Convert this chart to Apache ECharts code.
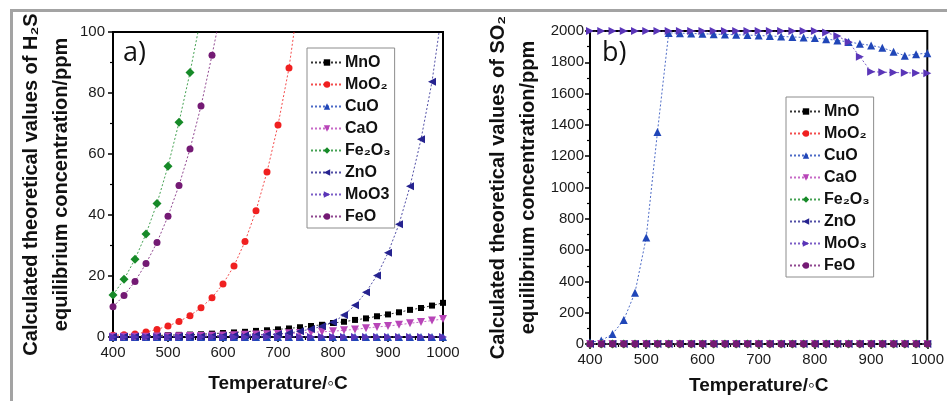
<!DOCTYPE html>
<html>
<head>
<meta charset="utf-8">
<script src="https://cdn.jsdelivr.net/npm/echarts@6/dist/echarts.min.js"></script>
<style>
  html, body { margin: 0; padding: 0; background: #fff; }
  #chart { width: 947px; height: 401px; }
</style>
</head>
<body>
<div id="chart"></div>
<script>
// temperature grid (°C)
const temps = [400, 420, 440, 460, 480, 500, 520, 540, 560, 580, 600, 620, 640, 660, 680, 700,
  720, 740, 760, 780, 800, 820, 840, 860, 880, 900, 920, 940, 960, 980, 1000];

// panel a) H2S equilibrium concentration, ppm
const mnoH2S = [0.2, 0.25, 0.3, 0.4, 0.5, 0.6, 0.7, 0.8, 0.9, 1.1, 1.3, 1.5, 1.7, 2.0, 2.2, 2.5,
  2.8, 3.2, 3.6, 4.0, 4.6, 5.0, 5.6, 6.1, 6.8, 7.4, 8.1, 8.9, 9.5, 10.3, 11.2];
const moo2H2S = [0.6, 0.7, 1.0, 1.6, 2.5, 3.6, 5.1, 7.0, 9.6, 12.9, 17.4, 23.3, 31.3, 41.4, 54.1, 69.5,
  88.2, 114, null, null, null, null, null, null, null, null, null, null, null, null, null];
const cuoH2S = [0, 0, 0, 0, 0, 0, 0, 0, 0, 0, 0, 0, 0, 0, 0, 0,
  0, 0, 0, 0, 0, 0, 0, 0, 0, 0, 0, 0, 0, 0, 0];
const caoH2S = [0.05, 0.05, 0.1, 0.1, 0.15, 0.2, 0.25, 0.3, 0.35, 0.4, 0.5, 0.6, 0.7, 0.8, 0.9, 1.0,
  1.2, 1.3, 1.5, 1.7, 1.9, 2.2, 2.5, 2.9, 3.3, 3.6, 4.0, 4.5, 4.9, 5.4, 5.9];
const fe2o3H2S = [13.8, 18.9, 25.5, 33.8, 43.8, 56.0, 70.4, 86.7, 105, null, null, null, null, null, null, null,
  null, null, null, null, null, null, null, null, null, null, null, null, null, null, null];
const znoH2S = [0.05, 0.05, 0.05, 0.1, 0.1, 0.1, 0.15, 0.2, 0.2, 0.25, 0.3, 0.4, 0.5, 0.6, 0.75, 0.9,
  1.3, 1.9, 2.6, 3.5, 4.8, 7.2, 10.4, 14.7, 20.2, 27.6, 37.0, 49.4, 64.8, 83.7, 109];
const moo3H2S = [0, 0, 0, 0, 0, 0, 0, 0, 0, 0, 0, 0, 0, 0, 0, 0,
  0, 0, 0, 0, 0, 0, 0, 0, 0, 0, 0, 0, 0, 0, 0];
const feoH2S = [9.9, 13.6, 18.2, 24.1, 31.0, 39.6, 49.7, 61.6, 75.7, 92.4, 110, null, null, null, null, null,
  null, null, null, null, null, null, null, null, null, null, null, null, null, null, null];

// panel b) SO2 equilibrium concentration, ppm
const mnoSO2 = [0, 0, 0, 0, 0, 0, 0, 0, 0, 0, 0, 0, 0, 0, 0, 0,
  0, 0, 0, 0, 0, 0, 0, 0, 0, 0, 0, 0, 0, 0, 0];
const moo2SO2 = [0, 0, 0, 0, 0, 0, 0, 0, 0, 0, 0, 0, 0, 0, 0, 0,
  0, 0, 0, 0, 0, 0, 0, 0, 0, 0, 0, 0, 0, 0, 0];
const cuoSO2 = [11, 22, 64, 153, 328, 680, 1355, 1988, 1986, 1984, 1982, 1980, 1978, 1976, 1974, 1971,
  1968, 1965, 1962, 1959, 1955, 1948, 1940, 1930, 1918, 1908, 1893, 1868, 1842, 1852, 1858];
const caoSO2 = [0, 0, 0, 0, 0, 0, 0, 0, 0, 0, 0, 0, 0, 0, 0, 0,
  0, 0, 0, 0, 0, 0, 0, 0, 0, 0, 0, 0, 0, 0, 0];
const fe2o3SO2 = [0, 0, 0, 0, 0, 0, 0, 0, 0, 0, 0, 0, 0, 0, 0, 0,
  0, 0, 0, 0, 0, 0, 0, 0, 0, 0, 0, 0, 0, 0, 0];
const znoSO2 = [0, 0, 0, 0, 0, 0, 0, 0, 0, 0, 0, 0, 0, 0, 0, 0,
  0, 0, 0, 0, 0, 0, 0, 0, 0, 0, 0, 0, 0, 0, 0];
const moo3SO2 = [2000, 2000, 2000, 2000, 2000, 2000, 2000, 2000, 2000, 2000, 2000, 2000, 2000, 2000, 2000, 2000,
  2000, 2000, 2000, 2000, 2000, 1990, 1968, 1930, 1836, 1740, 1737, 1735, 1733, 1731, 1730];
const feoSO2 = [0, 0, 0, 0, 0, 0, 0, 0, 0, 0, 0, 0, 0, 0, 0, 0,
  0, 0, 0, 0, 0, 0, 0, 0, 0, 0, 0, 0, 0, 0, 0];

const xTicksA = [400, 500, 600, 700, 800, 900, 1000];
const yTicksA = [0, 20, 40, 60, 80, 100];
const yTicksB = [0, 200, 400, 600, 800, 1000, 1200, 1400, 1600, 1800, 2000];

const namesA = ['MnO', 'MoO₂', 'CuO', 'CaO', 'Fe₂O₃', 'ZnO', 'MoO3', 'FeO'];
const namesB = ['MnO', 'MoO₂', 'CuO', 'CaO', 'Fe₂O₃', 'ZnO', 'MoO₃', 'FeO'];

const dataA = [mnoH2S, moo2H2S, cuoH2S, caoH2S, fe2o3H2S, znoH2S, moo3H2S, feoH2S];
const dataB = [mnoSO2, moo2SO2, cuoSO2, caoSO2, fe2o3SO2, znoSO2, moo3SO2, feoSO2];

// marker look per oxide
const looks = [
  { color: '#000000', symbol: 'rect', size: 6, rot: 0 },
  { color: '#f02020', symbol: 'circle', size: 7, rot: 0 },
  { color: '#2046b8', symbol: 'triangle', size: 8, rot: 0 },
  { color: '#b845b8', symbol: 'triangle', size: 8, rot: 180 },
  { color: '#168a28', symbol: 'diamond', size: 9, rot: 0 },
  { color: '#26238f', symbol: 'triangle', size: 8, rot: 90 },
  { color: '#5a35b8', symbol: 'triangle', size: 8, rot: -90 },
  { color: '#741a74', symbol: 'circle', size: 7, rot: 0 }
];

const font = 'Liberation Sans, Arial, sans-serif';
const tickColor = '#1a1a1a';

function pairs(vals) {
  return temps.map((t, i) => [t, vals[i]]);
}

function makeSeries(names, data, idx) {
  return names.map((n, k) => ({
    name: n,
    type: 'line',
    xAxisIndex: idx,
    yAxisIndex: idx,
    data: pairs(data[k]),
    symbol: looks[k].symbol,
    symbolSize: looks[k].size,
    symbolRotate: looks[k].rot,
    color: looks[k].color,
    lineStyle: { width: 1, type: [2, 2], color: looks[k].color, opacity: 0.8 },
    itemStyle: { color: looks[k].color },
    connectNulls: false,
    clip: true,
    animation: false
  }));
}

function xAxis(idx, nameGap) {
  return {
    type: 'value', gridIndex: idx, min: 400, max: 1000, interval: 100,
    name: 'Temperature/◦C', nameLocation: 'middle', nameGap: nameGap,
    nameTextStyle: { fontFamily: font, fontWeight: 'bold', fontSize: 19, color: '#111' },
    axisLine: { onZero: false, lineStyle: { color: '#000', width: 2 } },
    axisTick: { length: 5, lineStyle: { color: '#000', width: 1.5 } },
    minorTick: { show: true, splitNumber: 2, length: 3, lineStyle: { color: '#000', width: 1.2 } },
    axisLabel: { fontFamily: font, fontSize: 15, color: tickColor, margin: 8,
      formatter: v => xTicksA.includes(v) ? String(v) : '' },
    splitLine: { show: false }
  };
}

function legend(names, left, top) {
  return {
    data: names, orient: 'vertical', left: left, top: top,
    itemWidth: 32, itemHeight: 8, itemGap: 3,
    padding: [5, 4, 2, 3],
    borderColor: '#8c8c8c', borderWidth: 1, backgroundColor: '#fff',
    textStyle: { fontFamily: font, fontWeight: 'bold', fontSize: 16, color: '#111', lineHeight: 19, padding: [0, 0, 0, -3] }
  };
}

const myChart = echarts.init(document.getElementById('chart'));

const option = {
  backgroundColor: '#fff',
  animation: false,
  title: [
    { text: 'a)', left: 118, top: 35, textStyle: { fontFamily: 'Open Sans, sans-serif', fontWeight: 'normal', fontSize: 27, color: '#111' } },
    { text: 'b)', left: 597, top: 35, textStyle: { fontFamily: 'Open Sans, sans-serif', fontWeight: 'normal', fontSize: 27, color: '#111' } }
  ],
  graphic: [
    { type: 'rect', silent: true, shape: { x: 11.5, y: 10.5, width: 980, height: 450 },
      style: { fill: 'none', stroke: '#a3a3a3', lineWidth: 3 } }
  ],
  legend: [legend(namesA, 307, 48), legend(namesB, 786, 97)],
  grid: [
    { left: 113, right: 504, top: 32, bottom: 64, show: true, borderColor: '#000', borderWidth: 2, backgroundColor: 'transparent' },
    { left: 590, right: 17, top: 31, bottom: 57, show: true, borderColor: '#000', borderWidth: 2, backgroundColor: 'transparent' }
  ],
  xAxis: [xAxis(0, 37), xAxis(1, 32)],
  yAxis: [
    {
      type: 'value', gridIndex: 0, min: 0, max: 100, interval: 20,
      name: 'Calculated theoretical values of H₂S\nequilibrium concentration/ppm',
      nameLocation: 'middle', nameGap: 35, nameRotate: 90,
      nameTextStyle: { fontFamily: font, fontWeight: 'bold', fontSize: 20, lineHeight: 30, color: '#111' },
      axisLine: { lineStyle: { color: '#000', width: 2 } },
      axisTick: { length: 5, lineStyle: { color: '#000', width: 1.5 } },
      minorTick: { show: true, splitNumber: 2, length: 3, lineStyle: { color: '#000', width: 1.2 } },
      axisLabel: { fontFamily: font, fontSize: 15, color: tickColor, margin: 8,
        formatter: v => yTicksA.includes(v) ? String(v) : '' },
      splitLine: { show: false }
    },
    {
      type: 'value', gridIndex: 1, min: 0, max: 2000, interval: 200,
      name: 'Calculated theoretical values of SO₂\nequilibrium concentration/ppm',
      nameLocation: 'middle', nameGap: 47, nameRotate: 90,
      nameTextStyle: { fontFamily: font, fontWeight: 'bold', fontSize: 20, lineHeight: 30, color: '#111' },
      axisLine: { lineStyle: { color: '#000', width: 2 } },
      axisTick: { length: 5, lineStyle: { color: '#000', width: 1.5 } },
      minorTick: { show: true, splitNumber: 2, length: 3, lineStyle: { color: '#000', width: 1.2 } },
      axisLabel: { fontFamily: font, fontSize: 15, color: tickColor, margin: 6,
        formatter: v => yTicksB.includes(v) ? String(v) : '' },
      splitLine: { show: false }
    }
  ],
  series: makeSeries(namesA, dataA, 0).concat(makeSeries(namesB, dataB, 1))
};

myChart.setOption(option);
window.onresize = function () {
  myChart.resize();
};
</script>
</body>
</html>
